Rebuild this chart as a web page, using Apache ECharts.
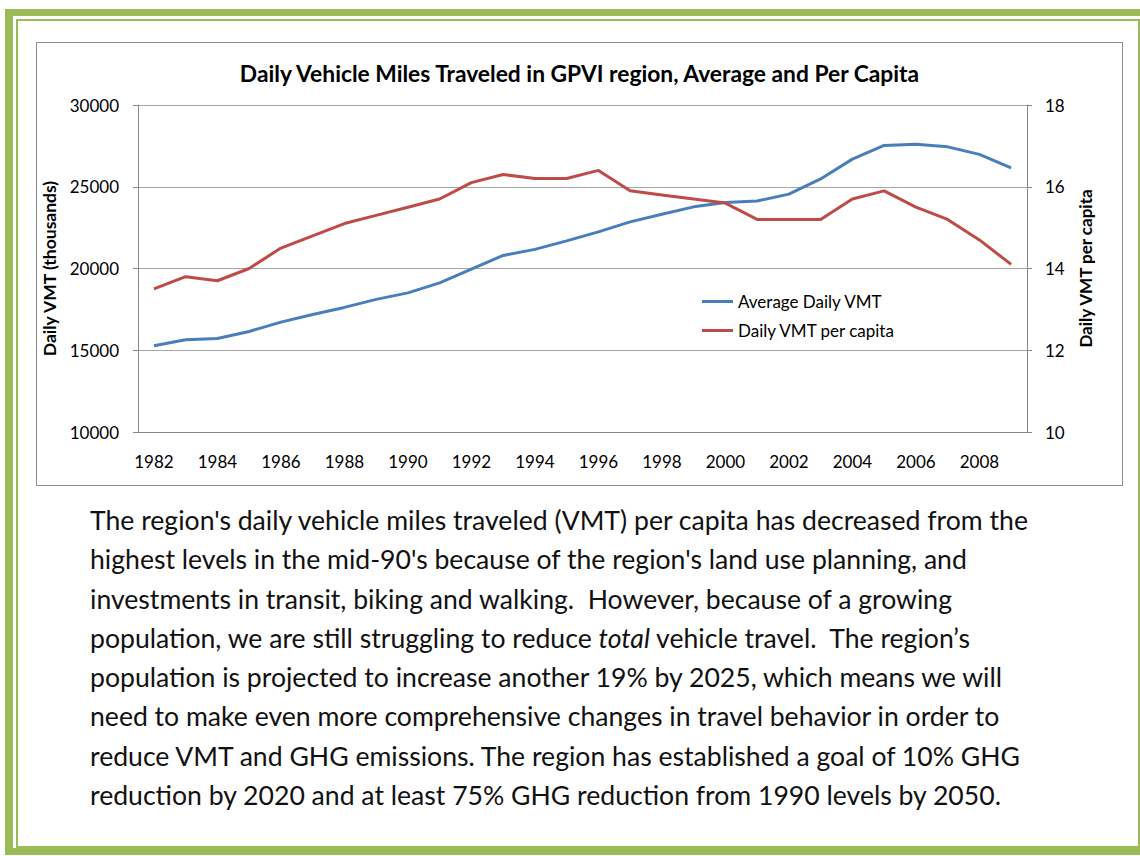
<!DOCTYPE html>
<html>
<head>
<meta charset="utf-8">
<script src="https://cdn.jsdelivr.net/npm/echarts@6/dist/echarts.min.js"></script>
<style>
  body { margin: 0; width: 1140px; height: 856px; background: #fff; position: relative; overflow: hidden; font-family: Lato, "Open Sans", sans-serif; }
  #frameOuter { position: absolute; left: 5px; top: 9px; width: 1160px; height: 846px; box-sizing: border-box; border: 7px solid #9bbb59; border-left-width: 8px; }
  #frameInner { position: absolute; left: 16px; top: 19px; width: 1124px; height: 829px; box-sizing: border-box; border: 2px solid #9bbb59; }
  #box { position: absolute; left: 36px; top: 42px; width: 1087px; height: 444px; box-sizing: border-box; border: 1px solid #8c8c8c; }
  #chart { width: 1085px; height: 442px; }
  #text { position: absolute; left: 90px; top: 501px; font-size: 26.6px; line-height: 39.3px; color: #111; }
  #text > div { white-space: pre; height: 39.3px; }
  #text span { display: inline-block; }
</style>
</head>
<body>
<div id="frameOuter"></div>
<div id="frameInner"></div>
<div id="box"><div id="chart"></div></div>
<div id="text">
<div>The region's daily vehicle miles traveled (VMT) per capita has decreased from the</div>
<div>highest levels in the mid-90's because of the region's land use planning, and</div>
<div>investments in transit, biking and walking.  However, because of a growing</div>
<div><span>population, we are still struggling to reduce </span><span style="font-style: italic;">total</span><span> vehicle travel.  The region’s</span></div>
<div>population is projected to increase another 19% by 2025, which means we will</div>
<div>need to make even more comprehensive changes in travel behavior in order to</div>
<div>reduce VMT and GHG emissions. The region has established a goal of 10% GHG</div>
<div>reduction by 2020 and at least 75% GHG reduction from 1990 levels by 2050.</div>
</div>
<script>
// years 1982 - 2009
var years = ['1982','1983','1984','1985','1986','1987','1988','1989','1990','1991',
  '1992','1993','1994','1995','1996','1997','1998','1999','2000','2001',
  '2002','2003','2004','2005','2006','2007','2008','2009'];

// average daily VMT (thousands)
var avgVmt = [15270, 15640, 15720, 16150, 16720, 17190, 17620, 18110, 18510, 19120,
  19960, 20800, 21170, 21690, 22240, 22850, 23320, 23770, 24040, 24130,
  24550, 25480, 26690, 27530, 27600, 27440, 26980, 26160];

// daily VMT per capita
var vmtPerCapita = [13.5, 13.8, 13.7, 14.0, 14.5, 14.8, 15.1, 15.3, 15.5, 15.7,
  16.1, 16.3, 16.2, 16.2, 16.4, 15.9, 15.8, 15.7, 15.6, 15.2,
  15.2, 15.2, 15.7, 15.9, 15.5, 15.2, 14.7, 14.1];

var leftTicks = [10000, 30000, 5000];
var rightTicks = [10, 18, 2];

var font = 'Lato, "Open Sans", sans-serif';
var axisGray = '#868686';

var myChart = echarts.init(document.getElementById('chart'), null, { renderer: 'svg' });

var option = {
  animation: false,
  title: {
    text: 'Daily Vehicle Miles Traveled in GPVI region, Average and Per Capita',
    left: 'center',
    top: 13,
    textStyle: { fontFamily: font, fontSize: 22.8, fontWeight: 'bold', color: '#000' }
  },
  legend: {
    orient: 'vertical',
    left: 660,
    top: 245,
    itemWidth: 31,
    itemHeight: 3,
    itemGap: 12,
    icon: 'rect',
    textStyle: { fontFamily: font, fontSize: 17, color: '#000' },
    data: ['Average Daily VMT', 'Daily VMT per capita']
  },
  grid: { left: 101, top: 62, right: 95, bottom: 53, containLabel: false, outerBoundsMode: 'none' },
  xAxis: {
    type: 'category',
    data: years,
    boundaryGap: true,
    axisLine: { lineStyle: { color: axisGray } },
    axisTick: { interval: 0, length: 5, lineStyle: { color: axisGray } },
    axisLabel: { interval: 1, margin: 21, fontFamily: font, fontSize: 17, color: '#000' }
  },
  yAxis: [
    {
      type: 'value',
      min: leftTicks[0], max: leftTicks[1], interval: leftTicks[2],
      name: 'Daily VMT (thousands)',
      nameLocation: 'middle',
      nameGap: 79,
      nameTextStyle: { fontFamily: font, fontSize: 17.5, fontWeight: 'bold', color: '#000' },
      axisLine: { show: true, lineStyle: { color: axisGray } },
      axisTick: { show: true, length: 5, lineStyle: { color: axisGray } },
      axisLabel: { margin: 19, fontFamily: font, fontSize: 17, color: '#000', formatter: function (v) { return String(v); } },
      splitLine: { show: true, lineStyle: { color: '#a6a6a6' } }
    },
    {
      type: 'value',
      min: rightTicks[0], max: rightTicks[1], interval: rightTicks[2],
      name: 'Daily VMT per capita',
      nameLocation: 'middle',
      nameGap: 50,
      nameTextStyle: { fontFamily: font, fontSize: 17, fontWeight: 'bold', color: '#000' },
      axisLine: { show: true, lineStyle: { color: axisGray } },
      axisTick: { show: true, length: 5, lineStyle: { color: axisGray } },
      axisLabel: { margin: 18, fontFamily: font, fontSize: 17, color: '#000', formatter: function (v) { return String(v); } },
      splitLine: { show: false }
    }
  ],
  series: [
    {
      name: 'Average Daily VMT',
      type: 'line',
      yAxisIndex: 0,
      data: avgVmt,
      symbol: 'none',
      lineStyle: { width: 3, color: '#4a7ebb' },
      itemStyle: { color: '#4a7ebb' }
    },
    {
      name: 'Daily VMT per capita',
      type: 'line',
      yAxisIndex: 1,
      data: vmtPerCapita,
      symbol: 'none',
      lineStyle: { width: 3, color: '#be4b48' },
      itemStyle: { color: '#be4b48' }
    }
  ]
};

myChart.setOption(option);
</script>
</body>
</html>
